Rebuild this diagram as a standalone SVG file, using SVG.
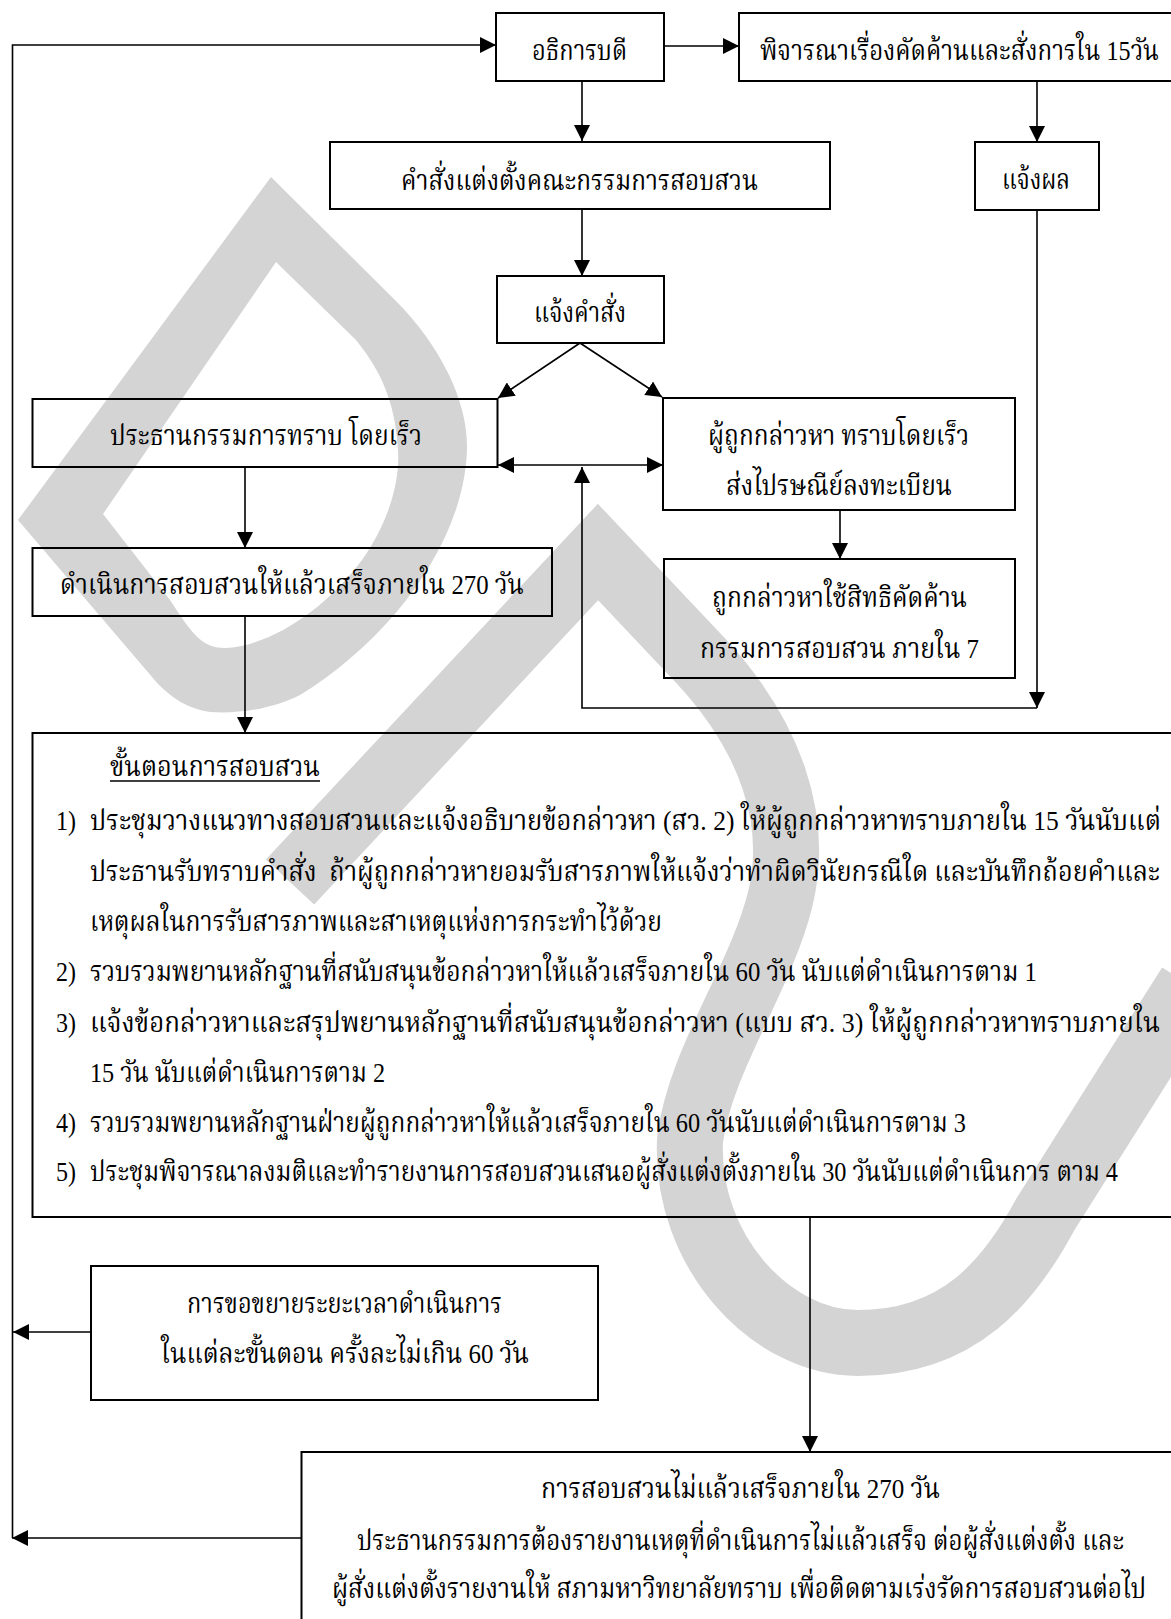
<svg xmlns="http://www.w3.org/2000/svg" width="1171" height="1619" viewBox="0 0 1171 1619">
<style>
.box{fill:none;stroke:#000;stroke-width:2}
.con{fill:none;stroke:#000;stroke-width:1.6}
text{font-family:"Liberation Serif","Noto Serif Thai","Noto Sans Thai",serif;font-size:28px;fill:#000}
.c{text-anchor:middle}
.wm{fill:#d4d4d4;fill-rule:evenodd}
.wms{fill:none;stroke:#d4d4d4;stroke-width:66;stroke-linejoin:miter;stroke-linecap:butt}
</style>
<defs>
<marker id="ah" viewBox="0 0 16 16" refX="16" refY="8" markerWidth="16" markerHeight="16" markerUnits="userSpaceOnUse" orient="auto-start-reverse"><path d="M0,0 L16,8 L0,16 Z" fill="#000"/></marker>
</defs>
<rect width="1171" height="1619" fill="#fff"/>
<g id="watermark">
<path class="wm" d="M271,177 L395,300 C440,345 467,400 467,445 C467,540 390,640 300,695 C270,710 235,714 210,712 C188,709 172,698 158,684 L18,520 Z M276,262 L103,514 L170,600 C190,630 200,648 225,648 C270,646 325,610 362,560 C390,520 400,480 398,450 C395,400 380,370 356,340 Z"/>
<path class="wms" d="M290,882 L598,552 L700,660 C770,735 800,820 780,900 C760,980 700,1060 690,1140 C685,1250 770,1343 858,1343 C960,1343 1010,1280 1045,1215 L1190,985"/>
</g>
<g id="connectors">
<path class="con" d="M12.5,1538 L12.5,45 L496,45" marker-end="url(#ah)"/>
<path class="con" d="M91,1332 L13,1332" marker-end="url(#ah)"/>
<path class="con" d="M301.5,1538 L12,1538" marker-end="url(#ah)"/>
<path class="con" d="M664,46 L739,46" marker-end="url(#ah)"/>
<path class="con" d="M582,81 L582,141" marker-end="url(#ah)"/>
<path class="con" d="M582,209 L582,276" marker-end="url(#ah)"/>
<path class="con" d="M580,343 L498,398" marker-end="url(#ah)"/>
<path class="con" d="M580,343 L662,397" marker-end="url(#ah)"/>
<path class="con" d="M498,465 L663,465" marker-start="url(#ah)" marker-end="url(#ah)"/>
<path class="con" d="M245,467 L245,548" marker-end="url(#ah)"/>
<path class="con" d="M245,616 L245,733" marker-end="url(#ah)"/>
<path class="con" d="M840,510 L840,559" marker-end="url(#ah)"/>
<path class="con" d="M1037,81 L1037,142" marker-end="url(#ah)"/>
<path class="con" d="M1037,210 L1037,708" marker-end="url(#ah)"/>
<path class="con" d="M1037,708 L582,708 L582,467" marker-end="url(#ah)"/>
<path class="con" d="M810,1217 L810,1452" marker-end="url(#ah)"/>
</g>
<g id="n-president">
<rect class="box" x="496" y="13" width="168" height="68"/>
<text class="c" x="579.5" y="60" textLength="95" lengthAdjust="spacingAndGlyphs">อธิการบดี</text>
</g>
<g id="n-objection">
<rect class="box" x="739" y="13" width="443" height="68"/>
<text class="c" x="959.5" y="60" textLength="399" lengthAdjust="spacingAndGlyphs">พิจารณาเรื่องคัดค้านและสั่งการใน 15วัน</text>
</g>
<g id="n-order">
<rect class="box" x="330" y="142" width="500" height="67"/>
<text class="c" x="579.5" y="190" textLength="357" lengthAdjust="spacingAndGlyphs">คำสั่งแต่งตั้งคณะกรรมการสอบสวน</text>
</g>
<g id="n-result">
<rect class="box" x="975" y="142" width="124" height="68"/>
<text class="c" x="1036" y="189" textLength="68" lengthAdjust="spacingAndGlyphs">แจ้งผล</text>
</g>
<g id="n-notify">
<rect class="box" x="497" y="276" width="167" height="67"/>
<text class="c" x="580" y="322" textLength="92" lengthAdjust="spacingAndGlyphs">แจ้งคำสั่ง</text>
</g>
<g id="n-chair">
<rect class="box" x="32.5" y="399" width="465" height="68"/>
<text class="c" x="266" y="445" textLength="312" lengthAdjust="spacingAndGlyphs">ประธานกรรมการทราบ โดยเร็ว</text>
</g>
<g id="n-accused">
<rect class="box" x="663" y="398" width="352" height="112"/>
<text class="c" x="838.5" y="445" textLength="261" lengthAdjust="spacingAndGlyphs">ผู้ถูกกล่าวหา ทราบโดยเร็ว</text>
<text class="c" x="839" y="495" textLength="226" lengthAdjust="spacingAndGlyphs">ส่งไปรษณีย์ลงทะเบียน</text>
</g>
<g id="n-investigate">
<rect class="box" x="32.5" y="548" width="519.5" height="68"/>
<text class="c" x="292" y="594" textLength="464" lengthAdjust="spacingAndGlyphs">ดำเนินการสอบสวนให้แล้วเสร็จภายใน 270 วัน</text>
</g>
<g id="n-right">
<rect class="box" x="664" y="559" width="351" height="119"/>
<text class="c" x="839.5" y="607" textLength="255" lengthAdjust="spacingAndGlyphs">ถูกกล่าวหาใช้สิทธิคัดค้าน</text>
<text class="c" x="839.5" y="658" textLength="279" lengthAdjust="spacingAndGlyphs">กรรมการสอบสวน ภายใน 7</text>
</g>
<g id="n-steps">
<rect class="box" x="32.5" y="733" width="1150" height="484"/>
<text x="110" y="776" textLength="210" lengthAdjust="spacingAndGlyphs">ขั้นตอนการสอบสวน</text>
<line x1="110" y1="781" x2="320" y2="781" stroke="#000" stroke-width="1.3"/>
<text x="56" y="830" textLength="20" lengthAdjust="spacingAndGlyphs">1)</text>
<text x="90" y="830" textLength="1071" lengthAdjust="spacingAndGlyphs">ประชุมวางแนวทางสอบสวนและแจ้งอธิบายข้อกล่าวหา (สว. 2) ให้ผู้ถูกกล่าวหาทราบภายใน 15 วันนับแต่</text>
<text x="90" y="881" textLength="1070" lengthAdjust="spacingAndGlyphs" xml:space="preserve">ประธานรับทราบคำสั่ง  ถ้าผู้ถูกกล่าวหายอมรับสารภาพให้แจ้งว่าทำผิดวินัยกรณีใด และบันทึกถ้อยคำและ</text>
<text x="90" y="931" textLength="572" lengthAdjust="spacingAndGlyphs">เหตุผลในการรับสารภาพและสาเหตุแห่งการกระทำไว้ด้วย</text>
<text x="56" y="981" textLength="20" lengthAdjust="spacingAndGlyphs">2)</text>
<text x="90" y="981" textLength="947" lengthAdjust="spacingAndGlyphs">รวบรวมพยานหลักฐานที่สนับสนุนข้อกล่าวหาให้แล้วเสร็จภายใน 60 วัน นับแต่ดำเนินการตาม 1</text>
<text x="56" y="1032" textLength="20" lengthAdjust="spacingAndGlyphs">3)</text>
<text x="90" y="1032" textLength="1070" lengthAdjust="spacingAndGlyphs">แจ้งข้อกล่าวหาและสรุปพยานหลักฐานที่สนับสนุนข้อกล่าวหา (แบบ สว. 3) ให้ผู้ถูกกล่าวหาทราบภายใน</text>
<text x="90" y="1082" textLength="295" lengthAdjust="spacingAndGlyphs">15 วัน นับแต่ดำเนินการตาม 2</text>
<text x="56" y="1132" textLength="20" lengthAdjust="spacingAndGlyphs">4)</text>
<text x="90" y="1132" textLength="876" lengthAdjust="spacingAndGlyphs">รวบรวมพยานหลักฐานฝ่ายผู้ถูกกล่าวหาให้แล้วเสร็จภายใน 60 วันนับแต่ดำเนินการตาม 3</text>
<text x="56" y="1181" textLength="20" lengthAdjust="spacingAndGlyphs">5)</text>
<text x="90" y="1181" textLength="1028" lengthAdjust="spacingAndGlyphs">ประชุมพิจารณาลงมติและทำรายงานการสอบสวนเสนอผู้สั่งแต่งตั้งภายใน 30 วันนับแต่ดำเนินการ ตาม 4</text>
</g>
<g id="n-extend">
<rect class="box" x="91" y="1266" width="507" height="134"/>
<text class="c" x="344.5" y="1313" textLength="315" lengthAdjust="spacingAndGlyphs">การขอขยายระยะเวลาดำเนินการ</text>
<text class="c" x="345" y="1363" textLength="368" lengthAdjust="spacingAndGlyphs">ในแต่ละขั้นตอน ครั้งละไม่เกิน 60 วัน</text>
</g>
<g id="n-overdue">
<rect class="box" x="301.5" y="1452" width="880" height="200"/>
<text class="c" x="740.5" y="1498" textLength="399" lengthAdjust="spacingAndGlyphs">การสอบสวนไม่แล้วเสร็จภายใน 270 วัน</text>
<text class="c" x="740.5" y="1550" textLength="767" lengthAdjust="spacingAndGlyphs">ประธานกรรมการต้องรายงานเหตุที่ดำเนินการไม่แล้วเสร็จ ต่อผู้สั่งแต่งตั้ง และ</text>
<text class="c" x="739" y="1598" textLength="814" lengthAdjust="spacingAndGlyphs">ผู้สั่งแต่งตั้งรายงานให้ สภามหาวิทยาลัยทราบ เพื่อติดตามเร่งรัดการสอบสวนต่อไป</text>
</g>
</svg>
